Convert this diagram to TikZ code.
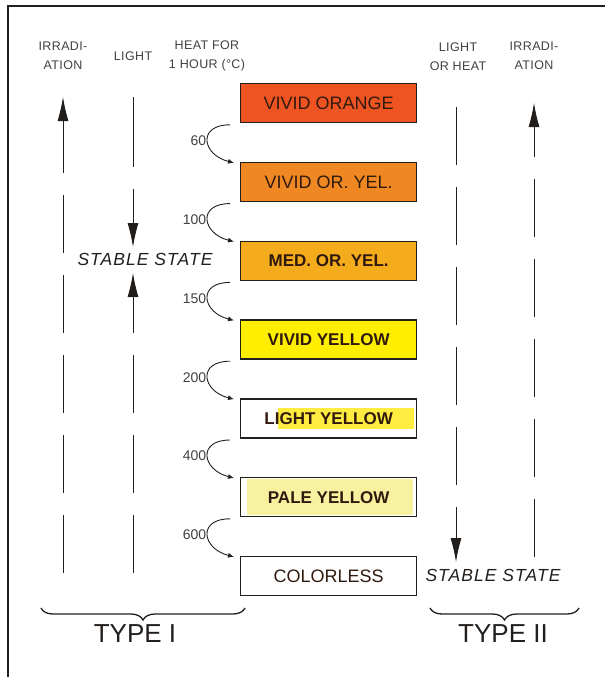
\documentclass[tikz,border=0pt]{standalone}
\usepackage{fontspec}
\setmainfont{Liberation Sans}
\newfontfamily\wideletters[LetterSpace=3]{Liberation Sans}
\newfontfamily\slantletters[LetterSpace=6]{Liberation Sans}
\usetikzlibrary{arrows.meta,decorations.pathreplacing,calc}
\definecolor{vorange}{RGB}{238,84,34}
\definecolor{voryel}{RGB}{239,136,34}
\definecolor{medoryel}{RGB}{245,172,28}
\definecolor{vyellow}{RGB}{255,238,0}
\definecolor{lyellow}{RGB}{255,236,64}
\definecolor{pyellow}{RGB}{248,242,160}
\definecolor{ink}{RGB}{34,30,28}
\definecolor{boxink}{RGB}{48,26,14}
\begin{document}
\begin{tikzpicture}[x=1pt,y=-1pt,
  frame/.style={line width=1.4pt, draw=ink},
  hdr/.style={font=\wideletters\fontsize{12.5}{19}\selectfont, align=center, text=ink!85, inner sep=0pt},
  tint/.style={draw=ink, line width=1.3pt, minimum width=176pt, minimum height=39pt,
    inner sep=0pt, anchor=north west, text=boxink, font=\fontsize{18}{20}\selectfont},
  tintbold/.style={tint, font=\fontsize{17}{20}\selectfont\bfseries},
  heat/.style={draw=ink, line width=0.9pt, -{Latex[length=6pt,width=5pt]}},
  heatlabel/.style={anchor=east, inner sep=1pt, text=ink!85, font=\fontsize{14}{15}\selectfont},
  vline/.style={draw=ink, line width=0.9pt, dash pattern=on 58pt off 22pt},
  bigtip/.style={-{Latex[length=24pt,width=11pt]}},
  stable/.style={inner sep=0pt, text=ink, font=\slantletters\fontsize{17.5}{20}\selectfont\itshape},
  typelabel/.style={inner sep=0pt, text=ink, font=\fontsize{26}{28}\selectfont},
  typebrace/.style={draw=ink, line width=1.3pt,
    decorate, decoration={brace, mirror, amplitude=12pt}}
]
\useasboundingbox (0,0) rectangle (605,677);

% frame along the top and the left edge
\draw[frame] (605,6) -- (8,6) -- (8,677);

% column headings
\node[hdr] (hIrrL)   at (63,56)  {IRRADI-\\ATION};
\node[hdr] (hLightL) at (133,56) {LIGHT};
\node[hdr] (hHeat)   at (207,56) {HEAT FOR\\1 HOUR (°C)};
\node[hdr] (hLightR) at (458,57) {LIGHT\\OR HEAT};
\node[hdr] (hIrrR)   at (534,56) {IRRADI-\\ATION};

% colour stages
\fill[lyellow] (278,408) rectangle (414,429);
\fill[pyellow] (247,479) rectangle (413,515);
\node[tint, fill=vorange]       (b0) at (240,83)    {VIVID ORANGE};
\node[tint, fill=voryel]        (b1) at (240,161.8) {VIVID OR. YEL.};
\node[tintbold, fill=medoryel]  (b2) at (240,240.6) {MED. OR. YEL.};
\node[tintbold, fill=vyellow]   (b3) at (240,319.4) {VIVID YELLOW};
\node[tintbold]                 (b4) at (240,398.2) {LIGHT YELLOW};
\node[tintbold]                 (b5) at (240,477)   {PALE YELLOW};
\node[tint]                     (b6) at (240,555.8) {COLORLESS};

% heating steps between stages
\foreach \a/\b/\t in {b0/b1/60, b1/b2/100, b2/b3/150, b3/b4/200, b4/b5/400, b5/b6/600} {
  \draw[heat] ([xshift=-10pt,yshift=-1.5pt]\a.south west)
    .. controls +(-33,0) and +(-32,-8) ..
    ([xshift=-6pt,yshift=-1pt]\b.north west)
    node[heatlabel, pos=0.5] {\t};
}

% stable states
\node[stable] (stL) at (145,259) {STABLE STATE};
\node[stable] (stR) at (493,575) {STABLE STATE};

% type I paths
\coordinate (irrLtop) at (63,97);
\coordinate (irrLbot) at (63,573);
\coordinate (lgtLtop) at (133,97);
\coordinate (lgtLmid) at (133,247);
\coordinate (lgtLlow) at (133,273);
\coordinate (lgtLbot) at (133,573);
\draw[vline, bigtip] (irrLbot) -- (irrLtop);
\draw[vline, bigtip, dash pattern=on 70pt off 22pt] (lgtLtop) -- (lgtLmid);
\draw[vline, bigtip] (lgtLbot) -- (lgtLlow);

% type II paths
\coordinate (lgtRtop) at (456,107);
\coordinate (lgtRbot) at (456,562);
\coordinate (irrRtop) at (534,103);
\coordinate (irrRbot) at (534,557);
\draw[vline, bigtip] (lgtRtop) -- (lgtRbot);
\draw[vline, bigtip] (irrRbot) -- (irrRtop);

% groupings
\draw[typebrace] (41,608) -- (245,608);
\draw[typebrace] (430,608) -- (579,608);
\node[typelabel] (t1) at (135,634) {TYPE I};
\node[typelabel] (t2) at (503,634) {TYPE II};
\end{tikzpicture}
\end{document}
